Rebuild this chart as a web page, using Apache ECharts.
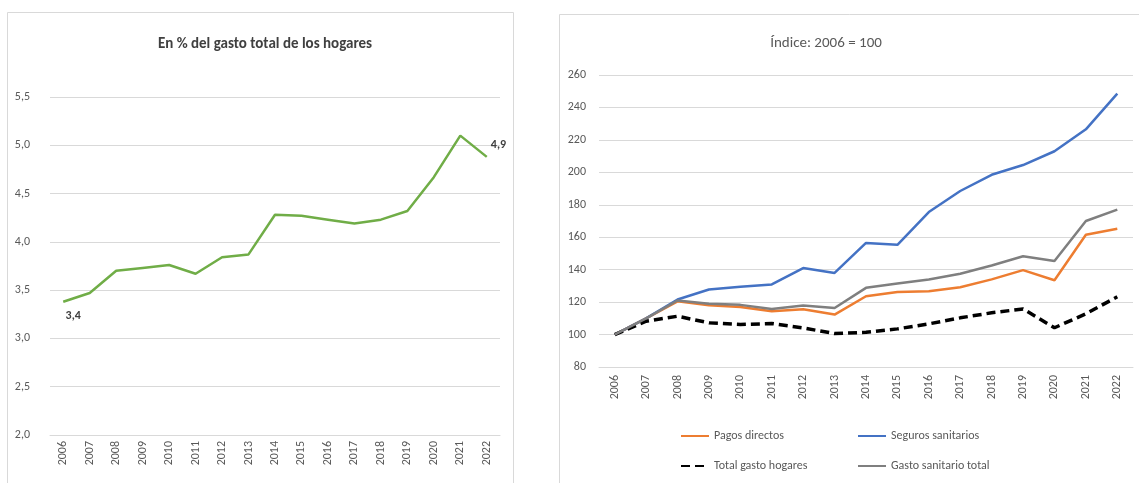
<!DOCTYPE html>
<html>
<head>
<meta charset="utf-8">
<script src="https://cdn.jsdelivr.net/npm/echarts@6/dist/echarts.min.js"></script>
<style>
  html, body { margin: 0; padding: 0; background: #fff; }
  #main { width: 1139px; height: 483px; }
</style>
</head>
<body>
<div id="main"></div>
<script>
var chart = echarts.init(document.getElementById('main'));

var years = ['2006', '2007', '2008', '2009', '2010', '2011', '2012', '2013', '2014',
    '2015', '2016', '2017', '2018', '2019', '2020', '2021', '2022'];

// En % del gasto total de los hogares
var pct_gasto = [3.38, 3.47, 3.70, 3.73, 3.76, 3.67, 3.84, 3.87, 4.28,
    4.27, 4.23, 4.19, 4.23, 4.32, 4.67, 5.10, 4.88];
var pct_labels = ['3,4', '4,9'];

// Indice 2006 = 100
var pagos_directos = [100, 110, 120.5, 118, 117, 114.4, 115.6, 112.3, 123.6,
    126.3, 126.7, 129.2, 134, 139.7, 133.5, 161.5, 165.2];
var seguros_sanitarios = [100, 110, 121.6, 127.8, 129.4, 130.9, 141, 138, 156.5,
    155.3, 175.5, 188.5, 198.5, 204.5, 213, 226.5, 248.5];
var total_gasto_hogares = [100, 108.2, 111.3, 107.2, 106.2, 106.8, 104.1, 100.6, 101.4,
    103.5, 106.6, 110.3, 113.4, 115.8, 104.2, 112.8, 123.3];
var gasto_sanitario_total = [100, 110, 121, 119, 118.3, 115.8, 117.9, 116.4, 128.8,
    131.5, 134, 137.5, 142.6, 148.3, 145.3, 170, 177];

var txt = '#595959';
var grid_line = '#d9d9d9';
var font = 'Calibri, Carlito, "Open Sans", sans-serif';

function comma(v) {
    return v.toFixed(1).replace('.', ',');
}

// first and last point get a value label
var pct_data = pct_gasto.map(function (v, i) {
    if (i === 0) {
        return { value: v, label: { show: true, position: 'bottom', offset: [10, 3], formatter: pct_labels[0] } };
    }
    if (i === pct_gasto.length - 1) {
        return { value: v, label: { show: true, position: 'right', offset: [-1, -12], formatter: pct_labels[1] } };
    }
    return v;
});

function line_series(name, data, color, width, dash) {
    return {
        name: name,
        type: 'line',
        xAxisIndex: 1,
        yAxisIndex: 1,
        data: data,
        symbol: 'none',
        lineStyle: { color: color, width: width, type: dash ? [9, 5] : 'solid', cap: 'butt' },
        itemStyle: { color: color },
        animation: false
    };
}

function legend_item(name, left, top) {
    return {
        data: [name],
        left: left,
        top: top,
        padding: 0,
        itemWidth: 28,
        itemHeight: 12,
        itemGap: 0,
        selectedMode: false,
        itemStyle: { opacity: 0 },
        textStyle: { color: txt, fontSize: 12, fontFamily: font }
    };
}

option = {
    backgroundColor: '#fff',
    textStyle: { fontFamily: font },
    graphic: [
        {
            type: 'rect',
            shape: { x: 7.5, y: 12.5, width: 506, height: 480 },
            style: { fill: 'none', stroke: grid_line, lineWidth: 1 },
            silent: true
        },
        {
            type: 'rect',
            shape: { x: 559.5, y: 14.5, width: 590, height: 480 },
            style: { fill: 'none', stroke: grid_line, lineWidth: 1 },
            silent: true
        }
    ],
    title: [
        {
            text: 'En % del gasto total de los hogares',
            left: 260,
            top: 32,
            textAlign: 'center',
            textStyle: { fontSize: 15, fontWeight: 'bold', color: '#404040', fontFamily: font }
        },
        {
            text: 'Índice: 2006 = 100',
            left: 821,
            top: 31,
            textAlign: 'center',
            textStyle: { fontSize: 15, fontWeight: 'normal', color: txt, fontFamily: font }
        }
    ],
    legend: [
        legend_item('Pagos directos', 680, 430),
        legend_item('Seguros sanitarios', 857, 430),
        legend_item('Total gasto hogares', 680, 460),
        legend_item('Gasto sanitario total', 857, 460)
    ],
    grid: [
        { left: 50, right: 639, top: 97, bottom: 48 },
        { left: 599, right: 6, top: 75, bottom: 116 }
    ],
    xAxis: [
        {
            type: 'category',
            gridIndex: 0,
            data: years,
            boundaryGap: true,
            axisLine: { lineStyle: { color: grid_line } },
            axisTick: { show: false },
            axisLabel: { rotate: 90, color: txt, fontSize: 12, margin: 6 }
        },
        {
            type: 'category',
            gridIndex: 1,
            data: years,
            boundaryGap: true,
            axisLine: { lineStyle: { color: grid_line } },
            axisTick: { show: false },
            axisLabel: { rotate: 90, color: txt, fontSize: 12, margin: 8 }
        }
    ],
    yAxis: [
        {
            type: 'value',
            gridIndex: 0,
            min: 2,
            max: 5.5,
            interval: 0.5,
            axisLine: { show: false },
            axisTick: { show: false },
            splitLine: { lineStyle: { color: grid_line } },
            axisLabel: { color: txt, fontSize: 12, margin: 20, formatter: comma }
        },
        {
            type: 'value',
            gridIndex: 1,
            min: 80,
            max: 260,
            interval: 20,
            axisLine: { show: false },
            axisTick: { show: false },
            splitLine: { lineStyle: { color: grid_line } },
            axisLabel: { color: txt, fontSize: 12, margin: 13 }
        }
    ],
    series: [
        {
            name: 'pct',
            type: 'line',
            xAxisIndex: 0,
            yAxisIndex: 0,
            data: pct_data,
            symbol: 'circle',
            symbolSize: 0.1,
            showSymbol: true,
            lineStyle: { color: '#70ad47', width: 2.5 },
            itemStyle: { color: '#70ad47' },
            label: { color: '#404040', fontSize: 12, fontWeight: 'bold' },
            animation: false
        },
        line_series('Pagos directos', pagos_directos, '#ed7d31', 2.5, false),
        line_series('Seguros sanitarios', seguros_sanitarios, '#4472c4', 2.5, false),
        line_series('Total gasto hogares', total_gasto_hogares, '#000000', 3.5, true),
        line_series('Gasto sanitario total', gasto_sanitario_total, '#7f7f7f', 2.5, false)
    ]
};

chart.setOption(option);
</script>
</body>
</html>
